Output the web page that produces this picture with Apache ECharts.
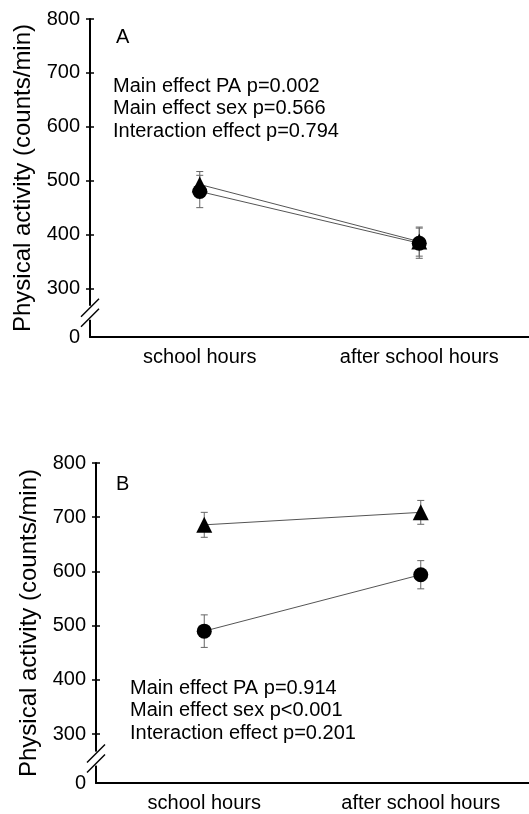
<!DOCTYPE html>
<html>
<head>
<meta charset="utf-8">
<script src="https://cdn.jsdelivr.net/npm/echarts@6/dist/echarts.min.js"></script>
<style>
  html, body { margin: 0; padding: 0; background: #fff; }
  #chart { width: 529px; height: 814px; }
</style>
</head>
<body>
<div id="chart"></div>
<script>
// Periods on the x axis
const categories = ['school hours', 'after school hours'];

// Panel A: means and standard errors (counts/min)
const aTriangle = [493, 387];
const aTriangleErr = [24, 27];
const aCircle = [480, 384];
const aCircleErr = [30, 28];

// Panel B: means and standard errors (counts/min)
const bTriangle = [686, 709];
const bTriangleErr = [23, 22];
const bCircle = [490, 594];
const bCircleErr = [30, 26];

// Value axis: broken between 0 and 300
const yTicks = [300, 400, 500, 600, 700, 800];
const axisFloor = 210;          // position drawn as "0" below the break
const yMax = 800;

const panelA = {
  letter: 'A',
  stats: ['Main effect PA p=0.002', 'Main effect sex p=0.566', 'Interaction effect p=0.794']
};
const panelB = {
  letter: 'B',
  stats: ['Main effect PA p=0.914', 'Main effect sex p<0.001', 'Interaction effect p=0.201']
};

const FONT = '"Liberation Sans", Arial, sans-serif';
const LINE_COLOR = '#555';
const ERR_COLOR = '#666';

function xAxisFor(gridIndex) {
  return {
    type: 'category',
    gridIndex,
    data: categories,
    boundaryGap: true,
    axisLine: { lineStyle: { color: '#000', width: 2 } },
    axisTick: { show: false },
    axisLabel: { color: '#000', fontSize: 20, fontFamily: FONT, margin: 10 }
  };
}

function yAxesFor(gridIndex) {
  const base = {
    type: 'value',
    gridIndex,
    min: axisFloor,
    max: yMax,
    position: 'left',
    splitLine: { show: false }
  };
  return [
    Object.assign({}, base, {
      name: 'Physical activity (counts/min)',
      nameLocation: 'middle',
      nameGap: gridIndex === 0 ? 53 : 55,
      nameTextStyle: { color: '#000', fontSize: 24, fontFamily: FONT },
      axisLine: { show: true, lineStyle: { color: '#000', width: 2 } },
      axisTick: { show: true, length: 4, customValues: yTicks, lineStyle: { color: '#000', width: 1.5 } },
      axisLabel: {
        color: '#000', fontSize: 20, fontFamily: FONT, margin: 10,
        customValues: [axisFloor].concat(yTicks),
        formatter: v => (v === axisFloor ? '0' : String(v))
      }
    }),
    // inner half of the crossing ticks
    Object.assign({}, base, {
      axisLine: { show: false },
      axisTick: { show: true, inside: true, length: 4, customValues: yTicks, lineStyle: { color: '#000', width: 1.5 } },
      axisLabel: { show: false }
    })
  ];
}

function lineSeries(values, symbol, size, xi, yi) {
  return {
    type: 'line',
    xAxisIndex: xi,
    yAxisIndex: yi,
    data: values,
    symbol,
    symbolSize: size,
    showSymbol: true,
    itemStyle: { color: '#000' },
    lineStyle: { color: LINE_COLOR, width: 1 },
    z: 4,
    animation: false
  };
}

function errorSeries(values, errs, xi, yi) {
  return {
    type: 'custom',
    xAxisIndex: xi,
    yAxisIndex: yi,
    data: values.map((v, i) => [i, v, errs[i]]),
    encode: { x: 0, y: 1 },
    z: 3,
    animation: false,
    renderItem(params, api) {
      const i = api.value(0), v = api.value(1), e = api.value(2);
      const hi = api.coord([i, v + e]);
      const lo = api.coord([i, v - e]);
      const hw = 3.5;
      const st = { stroke: ERR_COLOR, lineWidth: 1 };
      return {
        type: 'group',
        children: [
          { type: 'line', shape: { x1: hi[0], y1: hi[1], x2: lo[0], y2: lo[1] }, style: st },
          { type: 'line', shape: { x1: hi[0] - hw, y1: hi[1], x2: hi[0] + hw, y2: hi[1] }, style: st },
          { type: 'line', shape: { x1: lo[0] - hw, y1: lo[1], x2: lo[0] + hw, y2: lo[1] }, style: st }
        ]
      };
    }
  };
}

// Double-slash break mark on the value axis, halfway between "0" and 300
function breakSeries(xi, yi) {
  return {
    type: 'custom',
    xAxisIndex: xi,
    yAxisIndex: yi,
    data: [[0, (axisFloor + yTicks[0]) / 2]],
    encode: { x: 0, y: 1 },
    z: 10,
    silent: true,
    animation: false,
    clip: false,
    renderItem(params, api) {
      const c = api.coord([0, api.value(1)]);
      const band = api.size([1, 0])[0];
      const ax = c[0] - band / 2;
      const y = c[1];
      const d = 9, gap = 5;
      const st = { stroke: '#000', lineWidth: 1.5 };
      return {
        type: 'group',
        children: [
          { type: 'rect', shape: { x: ax - 2, y: y - gap - 2, width: 4, height: 2 * gap + 4 }, style: { fill: '#fff' } },
          { type: 'line', shape: { x1: ax - d, y1: y - gap + d, x2: ax + d, y2: y - gap - d }, style: st },
          { type: 'line', shape: { x1: ax - d, y1: y + gap + d, x2: ax + d, y2: y + gap - d }, style: st }
        ]
      };
    }
  };
}

function panelText(panel, letterTop, statsLeft, statsTop) {
  return [
    {
      type: 'text', left: 116, top: letterTop,
      style: { text: panel.letter, fontSize: 20, fontFamily: FONT, fill: '#000' }
    },
    {
      type: 'text', left: statsLeft, top: statsTop,
      style: { text: panel.stats.join('\n'), fontSize: 20, lineHeight: 22.5, fontFamily: FONT, fill: '#000' }
    }
  ];
}

const chart = echarts.init(document.getElementById('chart'), null, { renderer: 'canvas' });

chart.setOption({
  animation: false,
  backgroundColor: '#fff',
  grid: [
    { left: 90, right: 0, top: 19, height: 318 },
    { left: 96, right: 0, top: 463, height: 320 }
  ],
  xAxis: [xAxisFor(0), xAxisFor(1)],
  yAxis: yAxesFor(0).concat(yAxesFor(1)),
  series: [
    errorSeries(aCircle, aCircleErr, 0, 0),
    errorSeries(aTriangle, aTriangleErr, 0, 0),
    lineSeries(aTriangle, 'triangle', 16, 0, 0),
    lineSeries(aCircle, 'circle', 15, 0, 0),
    breakSeries(0, 0),
    errorSeries(bCircle, bCircleErr, 1, 2),
    errorSeries(bTriangle, bTriangleErr, 1, 2),
    lineSeries(bTriangle, 'triangle', 16, 1, 2),
    lineSeries(bCircle, 'circle', 15, 1, 2),
    breakSeries(1, 2)
  ],
  graphic: panelText(panelA, 27, 113, 75).concat(panelText(panelB, 474, 130, 677))
});
</script>
</body>
</html>
